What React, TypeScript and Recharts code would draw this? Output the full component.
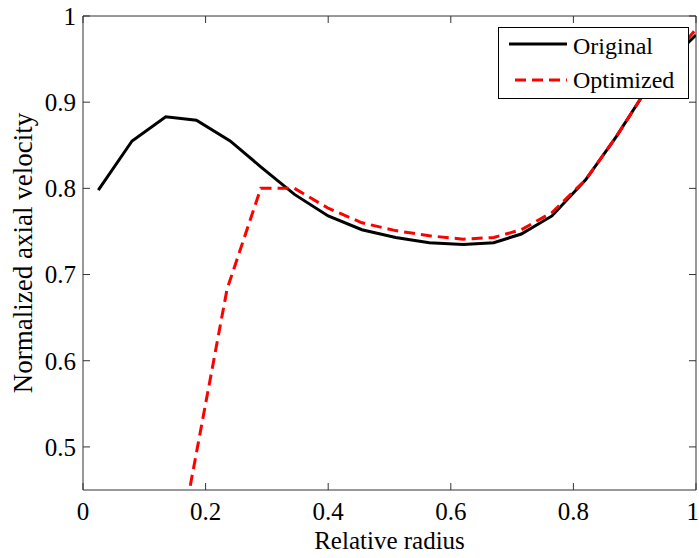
import React from 'react';
import { LineChart, Line, XAxis, YAxis, Legend } from 'recharts';

const originalRadius = [0.025, 0.08, 0.135, 0.185, 0.24, 0.29, 0.345, 0.4, 0.455, 0.51, 0.565, 0.62, 0.67, 0.715, 0.765, 0.82, 0.87, 0.915, 0.96, 1.0];
const originalVelocity = [0.798, 0.855, 0.883, 0.879, 0.855, 0.825, 0.793, 0.768, 0.752, 0.743, 0.737, 0.735, 0.737, 0.747, 0.768, 0.81, 0.86, 0.91, 0.95, 0.978];

const optimizedRadius = [0.175, 0.235, 0.29, 0.345, 0.4, 0.455, 0.51, 0.565, 0.62, 0.67, 0.715, 0.765, 0.82, 0.87, 0.915, 0.96, 1.0];
const optimizedVelocity = [0.455, 0.683, 0.8, 0.8, 0.777, 0.76, 0.751, 0.745, 0.741, 0.743, 0.752, 0.772, 0.81, 0.86, 0.91, 0.95, 0.985];

const xTicks = [0, 0.2, 0.4, 0.6, 0.8, 1];
const yTicks = [0.5, 0.6, 0.7, 0.8, 0.9, 1];

const FONT = '"Liberation Serif", "Times New Roman", serif';
const AXIS = '#333';

const originalData = originalRadius.map((r, i) => ({ r, v: originalVelocity[i] }));
const optimizedData = optimizedRadius.map((r, i) => ({ r, v: optimizedVelocity[i] }));

// empty tick: keeps the tick line, drops the label (used for the top/right frame axes)
const NoLabel = () => <g />;

const LegendBox = () => (
  <svg width={191} height={72} style={{ display: 'block' }}>
    <rect x={0.5} y={0.5} width={190} height={71} fill="#fff" stroke="#000" />
    <line x1={11} x2={69} y1={17} y2={17} stroke="#000" strokeWidth={3} />
    <text x={75} y={27} fontFamily={FONT} fontSize={24} fill="#000">Original</text>
    <line x1={17} x2={69} y1={53} y2={53} stroke="#ff0000" strokeWidth={3} strokeDasharray="11 6" />
    <text x={75} y={61} fontFamily={FONT} fontSize={24} fill="#000">Optimized</text>
  </svg>
);

export default function App() {
  const tickStyle = { fontFamily: FONT, fontSize: 25, fill: '#000' };
  return (
    <div style={{ position: 'absolute', left: 0, top: 0, background: '#fff', fontFamily: FONT }}>
      <LineChart width={699} height={558} margin={{ top: 15, right: 2, bottom: 0, left: 0 }}>
        <XAxis
          dataKey="r"
          type="number"
          domain={[0, 1]}
          ticks={xTicks}
          allowDataOverflow
          height={68}
          tickSize={-7}
          tickMargin={19}
          tick={tickStyle}
          stroke={AXIS}
          tickFormatter={(v: number) => String(v)}
          label={{ value: 'Relative radius', position: 'insideBottom', offset: 9, style: { fontFamily: FONT, fontSize: 25, fill: '#000' } }}
        />
        <XAxis
          xAxisId="top"
          orientation="top"
          dataKey="r"
          type="number"
          domain={[0, 1]}
          ticks={xTicks}
          allowDataOverflow
          height={1}
          tickSize={-7}
          tick={<NoLabel />}
          stroke={AXIS}
        />
        <YAxis
          type="number"
          domain={[0.45, 1]}
          ticks={yTicks}
          allowDataOverflow
          width={83}
          tickSize={-7}
          tickMargin={14}
          tick={tickStyle}
          stroke={AXIS}
          tickFormatter={(v: number) => String(v)}
          label={{ value: 'Normalized axial velocity', angle: -90, position: 'insideLeft', offset: 22, style: { fontFamily: FONT, fontSize: 27, fill: '#000', textAnchor: 'middle' } }}
        />
        <YAxis
          yAxisId="right"
          orientation="right"
          type="number"
          domain={[0.45, 1]}
          ticks={yTicks}
          allowDataOverflow
          width={1}
          tickSize={-7}
          tick={<NoLabel />}
          stroke={AXIS}
        />
        <Legend
          layout="horizontal"
          verticalAlign="middle"
          align="center"
          content={() => <LegendBox />}
          wrapperStyle={{ position: 'absolute', left: 498, top: 27, width: 191, height: 72 }}
        />
        {/* invisible copy on the top/right axes so the frame axes get drawn */}
        <Line
          data={originalData}
          dataKey="v"
          xAxisId="top"
          yAxisId="right"
          stroke="none"
          dot={false}
          activeDot={false}
          legendType="none"
          isAnimationActive={false}
        />
        <Line
          data={originalData}
          dataKey="v"
          type="linear"
          stroke="#000"
          strokeWidth={3}
          dot={false}
          isAnimationActive={false}
        />
        <Line
          data={optimizedData}
          dataKey="v"
          type="linear"
          stroke="#ff0000"
          strokeWidth={3}
          strokeDasharray="11 6"
          dot={false}
          isAnimationActive={false}
        />
      </LineChart>
    </div>
  );
}
